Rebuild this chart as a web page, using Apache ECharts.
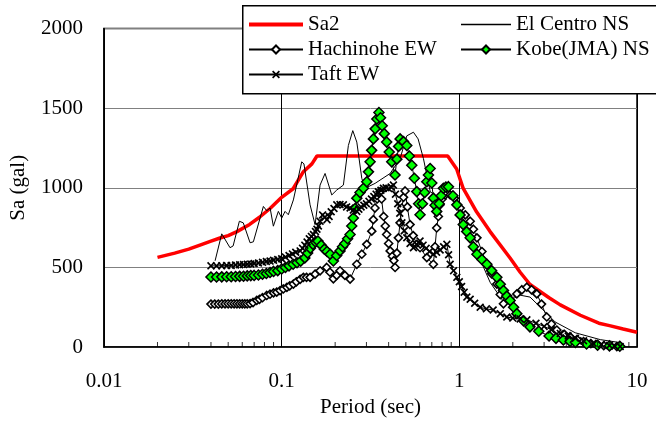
<!DOCTYPE html>
<html>
<head>
<meta charset="utf-8">
<script src="https://cdn.jsdelivr.net/npm/echarts@6.0.0/dist/echarts.min.js"></script>
<style>
html, body { margin: 0; padding: 0; background: #fff; }
#chart { width: 656px; height: 423px; }
</style>
</head>
<body>
<div id="chart"></div>
<script>
// [period (sec), Sa (gal)]
var sa2Data = [
    [0.02, 563], [0.025, 590], [0.03, 615], [0.035, 642], [0.04, 665], [0.045, 685], [0.05, 700],
    [0.056, 725], [0.066, 770], [0.075, 815], [0.086, 870], [0.1, 940], [0.116, 994], [0.132, 1099],
    [0.148, 1150], [0.158, 1200], [0.86, 1200], [0.966, 1118], [1.05, 998], [1.25, 849], [1.49, 725],
    [1.93, 559], [2.2, 470], [2.5, 393], [3.2, 310], [3.7, 265], [4.8, 200], [6.1, 150], [7, 135],
    [8.36, 114], [10, 93]
];

var elCentroData = [
    [0.0422, 542], [0.046, 711], [0.0512, 624], [0.0533, 635], [0.0578, 790], [0.0608, 780],
    [0.0664, 655], [0.0693, 661], [0.0789, 883], [0.0824, 856], [0.0861, 873], [0.0898, 759],
    [0.0958, 852], [0.1001, 810], [0.1045, 852], [0.109, 831], [0.1164, 924], [0.1297, 1163],
    [0.1335, 1150], [0.1445, 893], [0.1542, 769], [0.1645, 1017], [0.1755, 1090], [0.1914, 955],
    [0.2043, 986], [0.2225, 1017], [0.2374, 1266], [0.2513, 1359], [0.2648, 1287], [0.2825, 1059],
    [0.2949, 997], [0.3357, 1028], [0.408, 1090], [0.464, 1183], [0.506, 1326], [0.5516, 1349],
    [0.586, 1307], [0.628, 1183], [0.685, 978], [0.75, 935], [0.832, 985], [0.911, 966],
    [1.011, 842], [1.151, 686], [1.31, 550], [1.49, 407], [1.7, 314], [1.93, 295], [2.2, 326],
    [2.5, 314], [2.85, 252], [3.46, 158], [4.49, 90], [6.21, 47], [8.04, 28]
];

var hachinoheData = [
    [0.040, 270], [0.042, 270], [0.044, 270], [0.046, 271], [0.048, 271], [0.050, 272], [0.052, 272],
    [0.054, 272], [0.056, 272], [0.058, 272], [0.060, 272], [0.062, 272], [0.064, 272], [0.0664, 273],
    [0.069, 280], [0.0724, 293], [0.075, 300], [0.078, 310], [0.0824, 324], [0.086, 332], [0.09, 340],
    [0.0938, 345], [0.098, 355], [0.1022, 365], [0.107, 375], [0.111, 385], [0.1164, 396], [0.121, 410],
    [0.127, 425], [0.1325, 438], [0.138, 438], [0.1445, 438], [0.1542, 458], [0.1645, 479],
    [0.1792, 500], [0.187, 470], [0.1954, 429], [0.204, 450], [0.213, 479], [0.227, 450],
    [0.2427, 427], [0.2648, 520], [0.2825, 583], [0.3013, 645], [0.3215, 728], [0.328, 800],
    [0.335, 873], [0.345, 930], [0.3584, 976], [0.365, 930], [0.375, 820], [0.383, 760], [0.39, 707],
    [0.40, 650], [0.408, 604], [0.42, 570], [0.428, 543], [0.435, 500], [0.445, 590], [0.454, 686],
    [0.464, 780], [0.474, 873], [0.485, 940], [0.495, 980], [0.51, 880], [0.528, 769], [0.55, 700],
    [0.576, 645], [0.601, 624], [0.656, 562], [0.714, 520], [0.73, 630], [0.746, 748], [0.762, 820],
    [0.779, 893], [0.80, 930], [0.832, 955], [0.888, 955], [0.94, 935], [1.011, 873], [1.08, 830],
    [1.151, 790], [1.2, 740], [1.256, 686], [1.34, 600], [1.429, 520], [1.52, 460], [1.626, 396],
    [1.70, 330], [1.772, 272], [1.931, 293], [2.107, 334], [2.25, 360], [2.398, 376], [2.55, 360],
    [2.728, 334], [2.9, 270], [3.105, 189], [3.3, 145], [3.538, 107], [3.9, 80], [4.2, 65], [4.6, 48],
    [5.0, 35], [5.5, 22], [5.94, 14], [6.5, 9], [7.0, 6], [7.7, 3]
];

var kobeData = [
    [0.040, 440], [0.043, 440], [0.046, 441], [0.049, 442], [0.052, 442], [0.055, 443], [0.058, 444],
    [0.061, 445], [0.064, 447], [0.067, 449], [0.070, 450], [0.074, 453], [0.078, 457], [0.082, 462],
    [0.086, 468], [0.090, 475], [0.095, 480], [0.100, 490], [0.105, 500], [0.110, 510], [0.116, 520],
    [0.122, 530], [0.128, 540], [0.135, 560], [0.140, 590], [0.145, 620], [0.150, 645], [0.155, 660],
    [0.160, 666], [0.167, 640], [0.174, 615], [0.180, 600], [0.1875, 583], [0.1954, 541], [0.204, 575],
    [0.213, 604], [0.220, 630], [0.227, 650], [0.235, 680], [0.2427, 707], [0.248, 760], [0.253, 811],
    [0.259, 870], [0.2648, 935], [0.276, 970], [0.2885, 997], [0.3013, 1038], [0.308, 1100],
    [0.3146, 1163], [0.321, 1235], [0.3283, 1307], [0.336, 1370], [0.3433, 1432], [0.3527, 1473],
    [0.36, 1440], [0.368, 1390], [0.378, 1340], [0.390, 1287], [0.403, 1225], [0.4164, 1163],
    [0.4345, 1080], [0.445, 1180], [0.455, 1260], [0.464, 1307], [0.485, 1290], [0.506, 1266],
    [0.523, 1200], [0.540, 1142], [0.558, 1060], [0.576, 976], [0.59, 900], [0.601, 831], [0.62, 900],
    [0.638, 970], [0.656, 1038], [0.67, 1080], [0.685, 1121], [0.70, 1030], [0.714, 935], [0.73, 890],
    [0.746, 852], [0.77, 900], [0.79, 950], [0.813, 997], [0.84, 1005], [0.8685, 1007], [0.92, 950],
    [0.968, 893], [1.01, 830], [1.052, 769], [1.1, 725], [1.151, 686], [1.2, 630], [1.256, 583],
    [1.34, 550], [1.429, 520], [1.52, 480], [1.626, 438], [1.70, 395], [1.772, 355], [1.85, 320],
    [1.931, 293], [2.02, 250], [2.107, 210], [2.3, 165], [2.497, 127], [2.8, 100], [3.2, 70],
    [3.5, 55], [3.85, 45], [4.2, 36], [4.5, 30], [5.2, 20], [6.0, 12], [7.0, 8], [8.0, 5]
];

var taftData = [
    [0.040, 510], [0.043, 510], [0.046, 511], [0.049, 512], [0.052, 513], [0.055, 515], [0.058, 517],
    [0.061, 518], [0.064, 520], [0.067, 522], [0.070, 525], [0.074, 528], [0.078, 532], [0.082, 537],
    [0.086, 540], [0.090, 545], [0.095, 550], [0.100, 555], [0.105, 565], [0.110, 575], [0.115, 585],
    [0.120, 595], [0.127, 604], [0.131, 620], [0.135, 640], [0.139, 660], [0.143, 680], [0.147, 695],
    [0.151, 707], [0.155, 725], [0.158, 740], [0.161, 760], [0.1645, 790], [0.17, 830], [0.175, 815],
    [0.18, 800], [0.185, 820], [0.19, 850], [0.197, 870], [0.2043, 893], [0.213, 895], [0.2225, 893],
    [0.232, 880], [0.2427, 873], [0.253, 860], [0.2648, 852], [0.272, 865], [0.28, 880], [0.29, 890],
    [0.30, 900], [0.31, 915], [0.32, 930], [0.33, 945], [0.34, 960], [0.35, 975], [0.362, 985],
    [0.3738, 997], [0.387, 1000], [0.40, 995], [0.413, 1005], [0.4256, 1017], [0.437, 960],
    [0.45, 900], [0.462, 840], [0.475, 780], [0.49, 730], [0.506, 686], [0.528, 650], [0.5516, 624],
    [0.575, 645], [0.601, 666], [0.625, 640], [0.65, 620], [0.68, 600], [0.714, 583], [0.745, 595],
    [0.78, 610], [0.815, 630], [0.851, 645], [0.87, 580], [0.888, 520], [0.928, 480], [0.968, 438],
    [1.0, 410], [1.03, 380], [1.065, 345], [1.102, 314], [1.151, 300], [1.22, 275], [1.31, 250],
    [1.42, 240], [1.55, 233], [1.7, 210], [1.85, 189], [2.0, 182], [2.2, 176], [2.4, 171],
    [2.7, 150], [3.0, 130], [3.3, 108], [3.7, 86], [4.1, 70], [4.5, 55], [5.0, 40], [5.66, 24],
    [6.3, 16], [7.0, 10], [7.5, 6], [8.04, 3]
];

var minorTicks = [0.02, 0.03, 0.04, 0.05, 0.06, 0.07, 0.08, 0.09,
    0.2, 0.3, 0.4, 0.5, 0.6, 0.7, 0.8, 0.9,
    2, 3, 4, 5, 6, 7, 8, 9];

var font = 'Liberation Serif';
var crossPath = 'path://M0,1.5L1.5,0L5,3.5L8.5,0L10,1.5L6.5,5L10,8.5L8.5,10L5,6.5L1.5,10L0,8.5L3.5,5Z';

function markerSeries(name, data, symbol, size, fill, border, bw) {
    return {
        name: name,
        type: 'line',
        data: data,
        symbol: symbol,
        symbolSize: size,
        lineStyle: {color: '#000', width: 1},
        itemStyle: {color: fill, borderColor: border, borderWidth: bw},
        emphasis: {disabled: true}
    };
}

var myChart = echarts.init(document.getElementById('chart'));

var legendText = {fontFamily: font, fontSize: 21, color: '#000', lineHeight: 23};

var option = {
    animation: false,
    grid: {
        left: 103.5, right: 19, top: 28.5, bottom: 72.5,
        show: true, borderColor: '#000', borderWidth: 1.5
    },
    graphic: [{
        type: 'rect',
        left: 242, top: 5, z: 50,
        shape: {width: 430, height: 88},
        style: {fill: '#fff', stroke: '#000', lineWidth: 1.5}
    }],
    legend: [{
        data: [
            {name: 'Sa2', icon: 'path://M0,0L54,0L54,4L0,4Z'},
            'Hachinohe EW',
            'Taft EW'
        ],
        orient: 'vertical', left: 248, top: 13, padding: 0,
        itemWidth: 54, itemHeight: 10, itemGap: 2, z: 60,
        textStyle: legendText
    }, {
        data: [
            {name: 'El Centro NS', icon: 'path://M0,0L50,0L50,1.3L0,1.3Z'},
            'Kobe(JMA) NS'
        ],
        orient: 'vertical', left: 460, top: 13, padding: 0,
        itemWidth: 50, itemHeight: 10, itemGap: 2, z: 60,
        textStyle: legendText
    }],
    xAxis: {
        type: 'log', logBase: 10, min: 0.01, max: 10,
        name: 'Period (sec)', nameLocation: 'middle', nameGap: 47,
        nameTextStyle: {fontFamily: font, fontSize: 21, color: '#000'},
        axisLine: {show: true, lineStyle: {color: '#000', width: 1.5}},
        axisTick: {show: false},
        splitLine: {show: true, lineStyle: {color: '#000', width: 1}},
        axisLabel: {
            fontFamily: font, fontSize: 21, color: '#000', margin: 24,
            formatter: function (v) { return String(parseFloat(v.toPrecision(6))); }
        }
    },
    yAxis: {
        type: 'value', min: 0, max: 2000, interval: 500,
        name: 'Sa (gal)', nameLocation: 'middle', nameGap: 75,
        nameTextStyle: {fontFamily: font, fontSize: 21, color: '#000'},
        axisLine: {show: true, lineStyle: {color: '#000', width: 1.5}},
        axisTick: {show: false},
        splitLine: {show: true, lineStyle: {color: '#808080', width: 1}},
        axisLabel: {
            fontFamily: font, fontSize: 21, color: '#000', margin: 21,
            formatter: function (v) { return String(v); }
        }
    },
    series: [
        {
            name: 'Sa2', type: 'line', data: sa2Data, symbol: 'none',
            lineStyle: {color: '#ff0000', width: 3.5},
            itemStyle: {color: '#ff0000'},
            emphasis: {disabled: true}
        },
        {
            name: 'El Centro NS', type: 'line', data: elCentroData, symbol: 'none',
            lineStyle: {color: '#000', width: 1},
            itemStyle: {color: '#000'},
            emphasis: {disabled: true}
        },
        markerSeries('Hachinohe EW', hachinoheData, 'diamond', 8, '#fff', '#000', 1.6),
        markerSeries('Kobe(JMA) NS', kobeData, 'diamond', 10, '#00ff00', '#000', 1.5),
        markerSeries('Taft EW', taftData, crossPath, 8, '#000', '#000', 0),
        {
            // minor ticks on the period axis
            type: 'scatter', silent: true, clip: false, z: 3,
            data: minorTicks.map(function (t) { return [t, 0]; }),
            symbol: 'rect', symbolSize: [1, 5], symbolOffset: [0, -2.5],
            itemStyle: {color: '#000'}
        }
    ]
};

myChart.setOption(option);
</script>
</body>
</html>
